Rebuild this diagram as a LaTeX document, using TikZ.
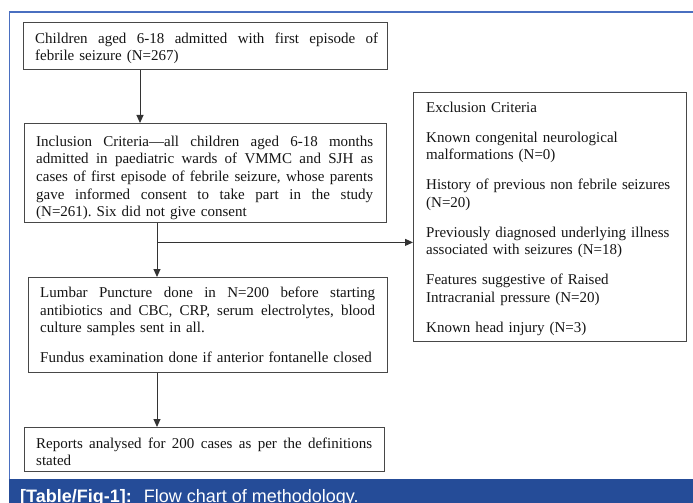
\documentclass[tikz,border=0pt]{standalone}
\usepackage{fontspec}
\setmainfont{Liberation Serif}
\newfontfamily\capfont{Liberation Sans}
\usetikzlibrary{arrows.meta}
\frenchspacing
\definecolor{framec}{HTML}{4A6FC0}
\definecolor{capblue}{HTML}{254C98}
\newcommand{\jline}[2]{\leavevmode\hbox to #1{\spaceskip=\fontdimen2\font plus 1fil\relax #2}\\}
\tikzset{
  box/.style={draw=black!72, line width=1.4bp, inner sep=0, anchor=north west},
  txt/.style={inner sep=0, anchor=north west, align=left, text=black!92,
              font=\fontsize{15bp}{17.6bp}\selectfont},
  arr/.style={draw=black!80, line width=1bp, -{Triangle[width=7bp,length=8bp]}},
  plain/.style={draw=black!80, line width=1bp}
}
\begin{document}
\begin{tikzpicture}[x=1bp,y=-1bp]
\useasboundingbox (0,0) rectangle (693,503);
\clip (0,0) rectangle (693,503);
% frame and caption bar
\draw[framec, line width=1.3bp] (693,12) -- (9.5,12) -- (9.5,479);
\fill[capblue] (9,479) rectangle (693,503);
\node[anchor=base west, inner sep=0, text=white,
      font=\capfont\fontsize{18bp}{20bp}\selectfont] (cap) at (20,502)
      {\textbf{[Table/Fig-1]:}\hspace{12bp}Flow chart of methodology.};

% boxes
\node[box, minimum width=364bp, minimum height=47bp] (b1) at (23,22) {};
\node[box, minimum width=362bp, minimum height=99bp] (b2) at (24,123) {};
\node[box, minimum width=273bp, minimum height=249bp] (ex) at (413,92) {};
\node[box, minimum width=359bp, minimum height=95bp] (b4) at (28,277) {};
\node[box, minimum width=360bp, minimum height=44bp] (b5) at (24,427) {};

% texts
\node[txt, text width=343bp] (t1) at (35,32.25) {%
\jline{343bp}{Children aged 6-18 admitted with first episode of}
febrile seizure (N=267)};

\node[txt, text width=337bp] (t2) at (36,135.75) {%
\jline{337bp}{Inclusion Criteria—all children aged 6-18 months}
\jline{337bp}{admitted in paediatric wards of VMMC and SJH as}
\jline{337bp}{cases of first episode of febrile seizure, whose parents}
\jline{337bp}{gave informed consent to take part in the study}
(N=261). Six did not give consent};

\node[txt, text width=258bp, font=\fontsize{15bp}{17.5bp}\selectfont] (tex) at (426,101.75) {%
Exclusion Criteria\\[12.5bp]
Known congenital neurological\\
malformations (N=0)\\[12.5bp]
History of previous non febrile seizures\\
(N=20)\\[12.5bp]
Previously diagnosed underlying illness\\
associated with seizures (N=18)\\[12.5bp]
Features suggestive of Raised\\
Intracranial pressure (N=20)\\[12.5bp]
Known head injury (N=3)};

\node[txt, text width=335bp, font=\fontsize{15bp}{17.5bp}\selectfont] (t4) at (40,287) {%
\jline{335bp}{Lumbar Puncture done in N=200 before starting}
\jline{335bp}{antibiotics and CBC, CRP, serum electrolytes, blood}
culture samples sent in all.\\[12.5bp]
Fundus examination done if anterior fontanelle closed};

\node[txt, text width=336bp] (t5) at (36,437.5) {%
\jline{336bp}{Reports analysed for 200 cases as per the definitions}
stated};

% connectors
\draw[arr] (b1.south west) ++(117,0) coordinate (s1) -- (s1 |- b2.north);
\draw[arr] (b2.south west) ++(133,0) coordinate (s2) -- (s2 |- b4.north);
\path (s2) ++(0,19) coordinate (br);
\draw[arr] (br) -- (br -| ex.west);
\draw[arr] (b4.south west) ++(129,0) coordinate (s4) -- (s4 |- b5.north);
\end{tikzpicture}
\end{document}
